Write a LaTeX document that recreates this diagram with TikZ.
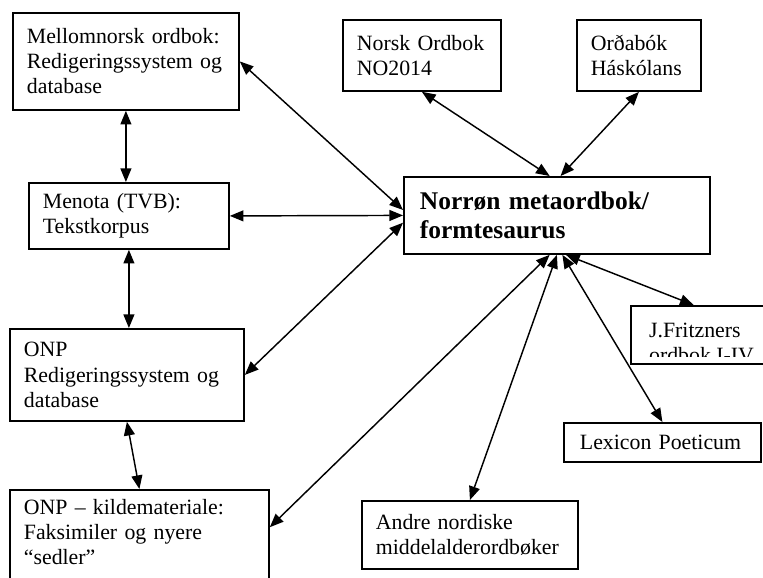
\documentclass[tikz,border=0pt]{standalone}
\usepackage{fontspec}
\setmainfont{Liberation Serif}
\usepackage{tikz}
\usetikzlibrary{calc,arrows.meta,positioning}

\newlength\pxu
\setlength\pxu{0.55pt}

\tikzset{
  box/.style={draw, line width=1pt, rectangle, anchor=north west, align=left,
    inner xsep=14\pxu, inner ysep=0pt, font=\fontsize{12}{13.8}\selectfont},
  link/.style={{Triangle[length=7.5pt,width=6pt]}-{Triangle[length=7.5pt,width=6pt]}, line width=0.8pt}
}

\begin{document}
\begin{tikzpicture}[x=\pxu,y=-\pxu]
    \useasboundingbox (0,0) rectangle (763,577);

    \node[box, text width=198\pxu, minimum height=97\pxu] (mell) at (12,12) {Mellomnorsk ordbok:\\Redigeringssystem og\\database};
    \node[box, text width=130\pxu, minimum height=71\pxu] (norsk) at (342,19) {Norsk Ordbok\\NO2014};
    \node[box, text width=96\pxu, minimum height=71\pxu] (orda) at (576,19) {Orðabók\\Háskólans};
    \node[box, text width=172\pxu, minimum height=66\pxu] (menota) at (28,182) {Menota (TVB):\\Tekstkorpus};
    \node[box, text width=274\pxu, minimum height=77\pxu, inner xsep=16\pxu,
      font=\fontsize{14}{16}\selectfont\bfseries] (centre) at (403,176) {Norrøn metaordbok/\\formtesaurus};
    \node[box, minimum width=140\pxu, minimum height=58\pxu,
      path picture={
        \clip (path picture bounding box.north west) rectangle ([yshift=4pt]path picture bounding box.south east);
        \node[anchor=north west, inner sep=0pt, minimum width=0pt, minimum height=0pt, align=left,
          font=\fontsize{12}{13.8}\selectfont]
          (jfrtext) at ([xshift=9.5pt,yshift=-9pt]path picture bounding box.north west) {J.Fritzners\\ordbok I-IV};
      }] (jfr) at (630,305) {};
    \node[box, text width=206\pxu, minimum height=92\pxu] (onp) at (9,328) {ONP\\Redigeringssystem og\\database};
    \node[box, text width=165\pxu, minimum height=39\pxu, inner xsep=16\pxu] (lex) at (563,422) {Lexicon Poeticum};
    \node[box, text width=188\pxu, minimum height=68\pxu] (andre) at (361,500) {Andre nordiske\\middelalderordbøker};
    \node[box, text width=231\pxu, inner ysep=5pt, text depth=110\pxu] (kilde) at (9,489) {ONP – kildemateriale:\\Faksimiler og nyere\\“sedler”};

    \draw[link] (mell.south) -- (mell.south |- menota.north);
    \draw[link] (menota.south) -- (menota.south |- onp.north);
    \draw[link] (onp.south) -- (kilde.north);

    \draw[link] ([yshift=3pt]centre.west) -- (mell.east);
    \draw[link] (centre.west) -- (menota.east);
    \draw[link] ([yshift=-4pt]centre.west) -- (onp.east);
    \draw[link] ([xshift=-4pt]centre.north) -- (norsk.south);
    \draw[link] ([xshift=2pt]centre.north) -- (orda.south);
    \draw[link] ([xshift=-4pt]centre.south) -- ([yshift=-21pt]kilde.north east);
    \draw[link] (centre.south) -- (andre.north);
    \draw[link] ([xshift=3pt]centre.south) -- (lex.north);
    \draw[link] ([xshift=5pt]centre.south) -- ([xshift=-4pt]jfr.north);
  \end{tikzpicture}
\end{document}
